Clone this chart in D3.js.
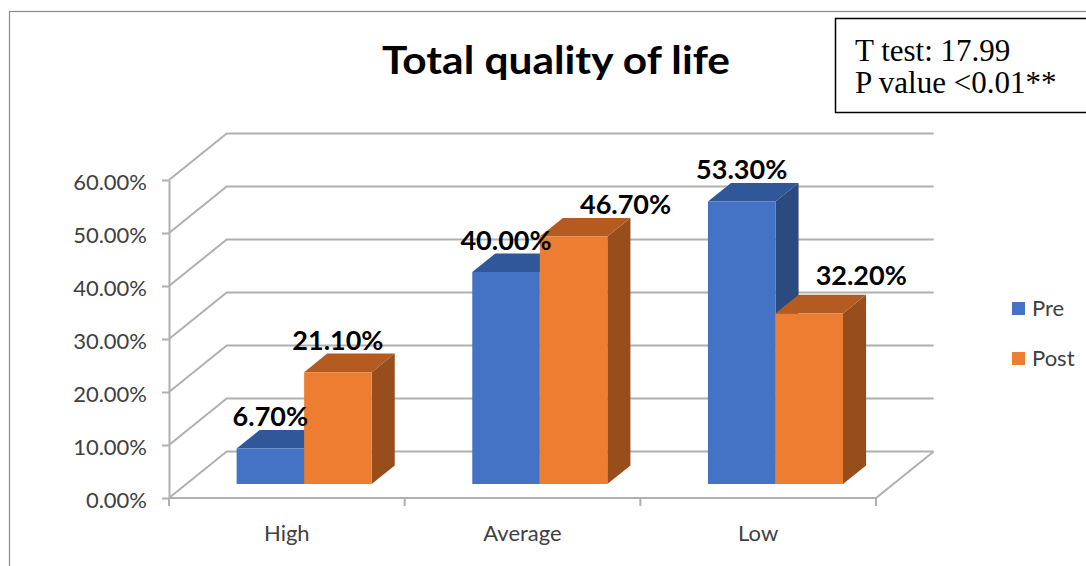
<!DOCTYPE html>
<html>
<head>
<meta charset="utf-8">
<script src="https://cdn.jsdelivr.net/npm/d3@7"></script>
<style>
  html, body { margin: 0; padding: 0; background: #fff; }
  svg { display: block; }
</style>
</head>
<body>
<svg id="chart" width="1086" height="566"></svg>
<script>
// ---- data ----
const categories = ["High", "Average", "Low"];
const seriesNames = ["Pre", "Post"];
const preValues = [0.067, 0.400, 0.533];
const postValues = [0.211, 0.467, 0.322];
const yTicks = [0, 0.1, 0.2, 0.3, 0.4, 0.5, 0.6];
const titleText = "Total quality of life";
const statLines = ["T test: 17.99", "P value <0.01**"];

const seriesValues = [preValues, postValues];

// ---- styles ----
const colors = {
  Pre:  { front: "#4472C4", top: "#30579A", side: "#2B4A7F" },
  Post: { front: "#ED7D31", top: "#B45B22", side: "#984D1C" }
};
const gridColor = "#b0b0b0";
const sansFont = "Lato, 'Open Sans', sans-serif";

const svg = d3.select("#chart");

// outer chart border
svg.append("rect").attr("x", 9.5).attr("y", 11.5).attr("width", 1100).attr("height", 600)
  .attr("fill", "none").attr("stroke", "#8c8c8c").attr("stroke-width", 1.2);

// ---- 3D geometry ----
const DX = 57.7, DY = 46.5;          // depth offset of back wall
const y = d3.scaleLinear().domain([0, 0.6]).range([498, 180]);
const x = d3.scaleBand().domain(categories).range([169, 876]).paddingInner(0).paddingOuter(0);
const xs = d3.scaleBand().domain(seriesNames).range([0, x.bandwidth()]).paddingInner(0).paddingOuter(0.745);
const barDepth0 = 0.3, barDepth1 = 0.7;
const proj = (px, v, t) => [px + t * DX, y(v) - t * DY];

const xLeft = x.range()[0], xRight = x.range()[1];

// gridlines: back wall lines + left wall diagonals
const grid = svg.append("g");
yTicks.forEach(v => {
  const f = proj(xLeft, v, 0), b = proj(xLeft, v, 1), br = proj(xRight, v, 1);
  grid.append("polyline")
    .attr("points", [f, b, br].map(p => p.join(",")).join(" "))
    .attr("fill", "none").attr("stroke", gridColor).attr("stroke-width", 2);
});
// floor front edge and right edge
{
  const a = proj(xLeft, 0, 0), b = proj(xRight, 0, 0), c = proj(xRight, 0, 1);
  grid.append("polyline").attr("points", [a, b, c].map(p => p.join(",")).join(" "))
    .attr("fill", "none").attr("stroke", gridColor).attr("stroke-width", 2);
}

// y axis
const yAxis = d3.axisLeft(y).tickValues(yTicks).tickFormat(d3.format(".2%"))
  .tickSize(7).tickSizeOuter(0).tickPadding(15);
const gy = svg.append("g").attr("transform", `translate(${xLeft},0)`).call(yAxis);
gy.select(".domain").attr("stroke", gridColor).attr("stroke-width", 2);
gy.selectAll(".tick line").attr("stroke", gridColor).attr("stroke-width", 2);
gy.selectAll(".tick text").attr("font-family", sansFont).attr("font-size", 22)
  .attr("fill", "#404040").attr("dy", "0.45em");
// axis extension below floor
svg.append("line").attr("x1", xLeft).attr("x2", xLeft).attr("y1", y(0)).attr("y2", y(0) + 8)
  .attr("stroke", gridColor).attr("stroke-width", 2);

// x axis
const xAxis = d3.axisBottom(x).tickSize(0).tickPadding(0);
const gx = svg.append("g").attr("transform", `translate(0,${y(0)})`).call(xAxis);
gx.select(".domain").remove();
gx.selectAll(".tick text").attr("font-family", sansFont).attr("font-size", 22)
  .attr("fill", "#404040").attr("y", 43).attr("dy", 0);
const bounds = categories.map(c => x(c)).concat([xRight]);
gx.selectAll(".bound").data(bounds).join("line").attr("class", "bound")
  .attr("x1", d => d).attr("x2", d => d).attr("y1", 0).attr("y2", 8)
  .attr("stroke", gridColor).attr("stroke-width", 2);

// ---- bars ----
const bars = svg.append("g");
const labels = svg.append("g");
const labelSize = 27;
categories.forEach((cat, ci) => {
  let preLabelTop = null, preBarTop = null;
  seriesNames.forEach((s, si) => {
    const v = seriesValues[si][ci];
    const x0 = x(cat) + xs(s), x1 = x0 + xs.bandwidth();
    const c = colors[s];
    const fBL = proj(x0, 0, barDepth0), fBR = proj(x1, 0, barDepth0);
    const fTL = proj(x0, v, barDepth0), fTR = proj(x1, v, barDepth0);
    const bTL = proj(x0, v, barDepth1), bTR = proj(x1, v, barDepth1), bBR = proj(x1, 0, barDepth1);
    const poly = pts => pts.map(p => p.join(",")).join(" ");
    bars.append("polygon").attr("points", poly([fBR, fTR, bTR, bBR])).attr("fill", c.side);
    bars.append("polygon").attr("points", poly([fTL, fTR, bTR, bTL])).attr("fill", c.top);
    bars.append("polygon").attr("points", poly([fBL, fTL, fTR, fBR])).attr("fill", c.front);

    // label placement: centred above bar; moved right if it would collide with the neighbour
    let lx = (x0 + x1) / 2 + barDepth0 * DX;
    let ly = bTL[1] - 3.5;
    if (si === 0) {
      preLabelTop = ly - labelSize * 0.72;
      preBarTop = bTL[1];
    } else {
      const blockedByBar = preBarTop < ly;
      const tooClose = preLabelTop - ly < 25;
      if (blockedByBar || tooClose) {
        lx += 52;
        if (blockedByBar) ly -= 6;
      }
    }
    labels.append("text")
      .attr("x", lx).attr("y", ly)
      .attr("text-anchor", "middle")
      .attr("font-family", sansFont).attr("font-weight", 700).attr("font-size", labelSize)
      .attr("fill", "#000")
      .text(d3.format(".2%")(v));
  });
});

// ---- title ----
svg.append("text").attr("x", 556).attr("y", 74).attr("text-anchor", "middle")
  .attr("font-family", sansFont).attr("font-weight", 700).attr("font-size", 39)
  .attr("textLength", 348).attr("lengthAdjust", "spacingAndGlyphs")
  .attr("fill", "#000").text(titleText);

// ---- stats box ----
svg.append("rect").attr("x", 835.5).attr("y", 18.5).attr("width", 260).attr("height", 94)
  .attr("fill", "#fff").attr("stroke", "#000").attr("stroke-width", 1.5);
svg.selectAll(".stat").data(statLines).join("text").attr("class", "stat")
  .attr("x", 855).attr("y", (d, i) => 61 + i * 32)
  .attr("font-family", "'Liberation Serif', 'Times New Roman', serif").attr("font-size", 31)
  .attr("fill", "#000").text(d => d);

// ---- legend ----
const leg = svg.append("g");
seriesNames.forEach((s, i) => {
  leg.append("rect").attr("x", 1012).attr("y", 302 + i * 50).attr("width", 13).attr("height", 13)
    .attr("fill", colors[s].front);
  leg.append("text").attr("x", 1032).attr("y", 316 + i * 50)
    .attr("font-family", sansFont).attr("font-size", 22).attr("fill", "#404040").text(s);
});
</script>
</body>
</html>
